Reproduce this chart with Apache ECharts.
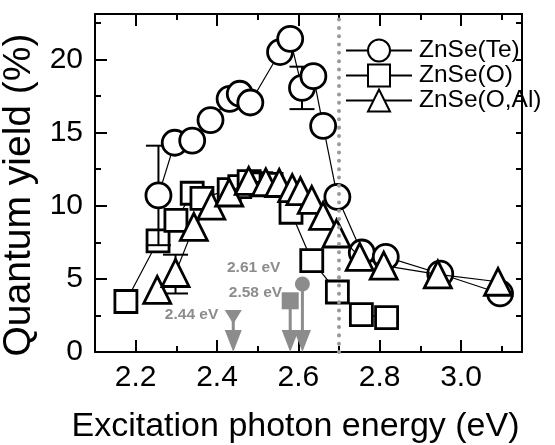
<!DOCTYPE html>
<html>
<head>
<meta charset="utf-8">
<script src="https://cdn.jsdelivr.net/npm/echarts@6/dist/echarts.min.js"></script>
<style>
  html, body { margin: 0; padding: 0; background: #fff; }
  #chart { width: 555px; height: 445px; }
</style>
</head>
<body>
<div id="chart"></div>
<script>
// Quantum yield versus excitation photon energy for three ZnSe samples

const teEnergy = [2.256, 2.296, 2.339, 2.384, 2.431, 2.456, 2.482, 2.555, 2.580, 2.609, 2.637, 2.661, 2.696, 2.756, 2.815, 2.949, 3.096];
const teYield  = [10.7, 14.3, 14.45, 15.85, 17.3, 17.65, 17.05, 20.5, 21.4, 18.05, 18.85, 15.45, 10.6, 6.8, 6.5, 5.35, 4.0];

const oEnergy = [2.176, 2.255, 2.299, 2.339, 2.363, 2.430, 2.456, 2.479, 2.508, 2.533, 2.582, 2.633, 2.696, 2.755, 2.817];
const oYield  = [3.45, 7.6, 9.0, 10.85, 10.5, 11.1, 11.3, 11.65, 11.5, 11.45, 9.55, 6.25, 4.1, 2.55, 2.35];

const oalEnergy = [2.253, 2.298, 2.343, 2.386, 2.430, 2.478, 2.520, 2.553, 2.585, 2.605, 2.633, 2.661, 2.694, 2.751, 2.810, 2.943, 3.091];
const oalYield  = [4.25, 5.4, 8.55, 10.0, 10.9, 11.7, 11.6, 11.55, 11.2, 11.0, 10.4, 9.3, 8.1, 6.5, 5.9, 5.3, 4.8];

// error bars: energy, lower and upper yield
const errEnergy = [2.256, 2.609, 2.298];
const errLow    = [7.3, 16.6, 4.0];
const errHigh   = [14.1, 19.5, 6.65];

// emission peak markers
const peakEnergy = [2.44, 2.58, 2.61];
const peakLevel  = [2.4, 3.5, 4.65];
const peakText   = ['2.44 eV', '2.58 eV', '2.61 eV'];
const peakShape  = ['downTriangle', 'square', 'circle'];

const cutoffEnergy = 2.70;

const xMajorTicks = [2.2, 2.4, 2.6, 2.8, 3.0];
const xMinorTicks = [2.3, 2.5, 2.7, 2.9, 3.1];
const yMajorTicks = [0, 5, 10, 15, 20];
const yMinorTicks = [2.5, 7.5, 12.5, 17.5, 22.5];
const yRightTicks = [0, 2.5, 5, 7.5, 10, 12.5, 15, 17.5, 20, 22.5];

const seriesNames = ['ZnSe(Te)', 'ZnSe(O)', 'ZnSe(O,Al)'];

const X_MIN = 2.1, X_MAX = 3.15, Y_MIN = 0, Y_MAX = 23.1;
const FONT = 'Liberation Sans, Arial, Helvetica, sans-serif';
const GRAY = '#8c8c8c';

const gridRect = { left: 95, right: 33, top: 14, bottom: 93, containLabel: false, outerBoundsMode: 'none' };

const chart = echarts.init(document.getElementById('chart'), null, { renderer: 'canvas' });

function pairs(xs, ys) { return xs.map((x, i) => [x, ys[i]]); }

function dataSeries(name, xs, ys, symbol, size, z) {
  return {
    name, type: 'line', xAxisIndex: 0, yAxisIndex: 0,
    data: pairs(xs, ys),
    symbol, symbolSize: size, showAllSymbol: true, z,
    lineStyle: { color: '#000', width: 1.2 },
    itemStyle: { color: '#fff', borderColor: '#000', borderWidth: 2.8 },
    emphasis: { disabled: true },
    animation: false
  };
}

function xAxisDef(gridIndex, position, ticks, len, extra) {
  return Object.assign({
    type: 'value', gridIndex, position, min: X_MIN, max: X_MAX,
    axisLine: { show: true, onZero: false, lineStyle: { color: '#000', width: 2 } },
    axisTick: { show: true, inside: true, length: len, customValues: ticks, lineStyle: { color: '#000', width: 2 } },
    axisLabel: { show: false },
    splitLine: { show: false }
  }, extra || {});
}

function yAxisDef(gridIndex, position, ticks, len, extra) {
  return Object.assign({
    type: 'value', gridIndex, position, min: Y_MIN, max: Y_MAX,
    axisLine: { show: true, onZero: false, lineStyle: { color: '#000', width: 2 } },
    axisTick: { show: true, inside: true, length: len, customValues: ticks, lineStyle: { color: '#000', width: 2 } },
    axisLabel: { show: false },
    splitLine: { show: false }
  }, extra || {});
}

const option = {
  backgroundColor: '#fff',
  animation: false,
  textStyle: { fontFamily: FONT },
  grid: [Object.assign({}, gridRect), Object.assign({}, gridRect)],
  legend: {
    data: seriesNames,
    orient: 'vertical',
    left: 345, top: 38,
    padding: 0,
    itemWidth: 66, itemHeight: 27.5, itemGap: 0,
    selectedMode: false,
    textStyle: { fontSize: 24.5, color: '#000', fontFamily: FONT, padding: [0, 0, 0, 2] }
  },
  xAxis: [
    xAxisDef(0, 'bottom', xMajorTicks, 12, {
      axisLabel: {
        show: true, customValues: xMajorTicks, margin: 11,
        fontSize: 30, color: '#000', fontFamily: FONT,
        formatter: v => v.toFixed(1)
      },
      name: 'Excitation photon energy (eV)',
      nameLocation: 'middle', nameGap: 58,
      nameTextStyle: { fontSize: 34, color: '#000', fontFamily: FONT, padding: [0, 26, 0, 0] }
    }),
    xAxisDef(0, 'top', xMajorTicks, 12),
    xAxisDef(1, 'bottom', xMinorTicks, 6, { axisLine: { show: false } }),
    xAxisDef(1, 'top', xMinorTicks, 6, { axisLine: { show: false } })
  ],
  yAxis: [
    yAxisDef(0, 'left', yMajorTicks, 12, {
      axisLabel: {
        show: true, customValues: yMajorTicks, margin: 12,
        fontSize: 30, color: '#000', fontFamily: FONT
      },
      name: 'Quantum yield (%)',
      nameLocation: 'middle', nameGap: 48, nameRotate: 90,
      nameTextStyle: { fontSize: 39, color: '#000', fontFamily: FONT, padding: [0, 24, 0, 0] }
    }),
    yAxisDef(0, 'right', yRightTicks, 6),
    yAxisDef(1, 'left', yMinorTicks, 6, { axisLine: { show: false } })
  ],
  series: [
    dataSeries(seriesNames[1], oEnergy, oYield, 'rect', 22, 2),
    {
      type: 'custom', xAxisIndex: 0, yAxisIndex: 0, z: 3,
      data: errEnergy.map((x, i) => [x, errLow[i], errHigh[i]]),
      encode: { x: 0, y: [1, 2] },
      renderItem: (params, api) => {
        const x = api.value(0);
        const lo = api.coord([x, api.value(1)]);
        const hi = api.coord([x, api.value(2)]);
        const w = 12.5;
        const st = { stroke: '#000', lineWidth: 2 };
        return {
          type: 'group',
          children: [
            { type: 'line', shape: { x1: lo[0], y1: lo[1], x2: hi[0], y2: hi[1] }, style: st },
            { type: 'line', shape: { x1: lo[0] - w, y1: lo[1], x2: lo[0] + w, y2: lo[1] }, style: st },
            { type: 'line', shape: { x1: hi[0] - w, y1: hi[1], x2: hi[0] + w, y2: hi[1] }, style: st }
          ]
        };
      },
      animation: false
    },
    dataSeries(seriesNames[0], teEnergy, teYield, 'circle', 25, 4),
    dataSeries(seriesNames[2], oalEnergy, oalYield, 'triangle', 27, 5),
    {
      type: 'custom', xAxisIndex: 0, yAxisIndex: 0, z: 6,
      data: peakEnergy.map((x, i) => [x, peakLevel[i]]),
      encode: { x: 0, y: 1 },
      renderItem: (params, api) => {
        const i = params.dataIndex;
        const x = api.value(0);
        const p = api.coord([x, api.value(1)]);
        const b = api.coord([x, Y_MIN]);
        const headH = 22, headW = 8.5;
        const fill = { fill: GRAY };
        const labelOffset = [[-15, -2], [-8, -8], [-22, -16]][i];
        let marker;
        if (peakShape[i] === 'circle') {
          marker = { type: 'circle', shape: { cx: p[0], cy: p[1], r: 7.5 }, style: fill };
        } else if (peakShape[i] === 'square') {
          marker = { type: 'rect', shape: { x: p[0] - 8.5, y: p[1] - 8.5, width: 17, height: 17 }, style: fill };
        } else {
          marker = { type: 'polygon', shape: { points: [[p[0] - 8.5, p[1] - 7], [p[0] + 8.5, p[1] - 7], [p[0], p[1] + 7]] }, style: fill };
        }
        return {
          type: 'group',
          children: [
            { type: 'line', shape: { x1: p[0], y1: p[1], x2: b[0], y2: b[1] - headH + 1 }, style: { stroke: GRAY, lineWidth: 3 } },
            { type: 'polygon', shape: { points: [[b[0] - headW, b[1] - headH], [b[0] + headW, b[1] - headH], [b[0], b[1]]] }, style: fill },
            marker,
            {
              type: 'text',
              style: {
                x: p[0] + labelOffset[0], y: p[1] + labelOffset[1],
                text: peakText[i], align: 'right', verticalAlign: 'middle',
                fill: GRAY, font: 'bold 15.5px ' + FONT
              }
            }
          ]
        };
      },
      animation: false
    },
    {
      type: 'line', xAxisIndex: 0, yAxisIndex: 0, z: 10,
      data: [[cutoffEnergy, Y_MIN], [cutoffEnergy, Y_MAX]],
      symbol: 'none',
      lineStyle: { color: '#999', width: 4, type: [0.01, 8.3], cap: 'round' },
      emphasis: { disabled: true },
      silent: true,
      animation: false
    }
  ]
};

chart.setOption(option);
</script>
</body>
</html>
